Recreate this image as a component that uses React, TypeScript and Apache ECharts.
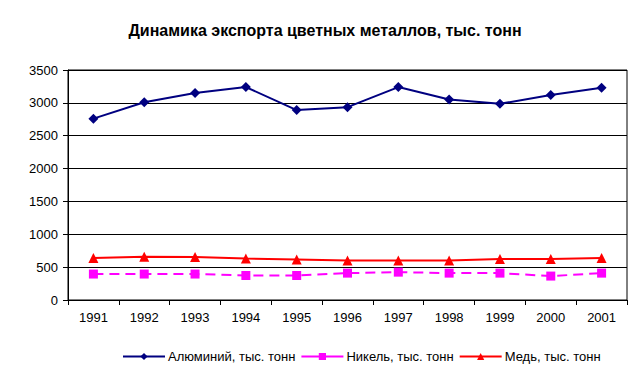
import React, { useEffect, useRef } from "react";
import * as echarts from "echarts";

const years = ["1991", "1992", "1993", "1994", "1995", "1996", "1997", "1998", "1999", "2000", "2001"];
const aluminium = [2760, 3010, 3150, 3240, 2890, 2935, 3240, 3050, 2985, 3120, 3230];
const nickel = [395, 395, 395, 373, 373, 409, 424, 409, 409, 364, 409];
const copper = [640, 660, 655, 630, 615, 600, 600, 600, 625, 625, 640];
const seriesNames = ["Алюминий, тыс. тонн", "Никель, тыс. тонн", "Медь, тыс. тонн"];
const titleText = "Динамика экспорта цветных металлов, тыс. тонн";

export default function App() {
  const ref = useRef<HTMLDivElement>(null);
  useEffect(() => {
    if (!ref.current) return;
    const chart = echarts.init(ref.current, undefined, { renderer: "svg" });
    const font = "Arial, 'Liberation Sans', sans-serif";
    chart.setOption({
      animation: false,
      backgroundColor: "#ffffff",
      textStyle: { fontFamily: font },
      title: {
        text: titleText,
        left: 320,
        textAlign: "center",
        top: 17,
        textStyle: { fontSize: 16, fontWeight: "bold", color: "#000", fontFamily: font },
      },
      grid: {
        left: 68,
        right: 15,
        top: 70,
        bottom: 80,
        show: true,
        borderColor: "#000",
        borderWidth: 1,
        backgroundColor: "transparent",
      },
      legend: {
        bottom: 12,
        left: 117,
        itemWidth: 42,
        itemHeight: 9,
        itemGap: 5,
        textStyle: { fontSize: 13, color: "#000", fontFamily: font, padding: [0, 0, 0, -2] },
        data: [
          { name: seriesNames[0] },
          { name: seriesNames[1], lineStyle: { type: "solid" } },
          { name: seriesNames[2] },
        ],
      },
      xAxis: {
        type: "category",
        data: years,
        boundaryGap: true,
        axisLine: { lineStyle: { color: "#000", width: 1 } },
        axisTick: { show: true, length: 5, lineStyle: { color: "#000" } },
        axisLabel: { fontSize: 13, color: "#000", margin: 11, fontFamily: font },
        splitLine: { show: false },
      },
      yAxis: {
        type: "value",
        min: 0,
        max: 3500,
        interval: 500,
        axisLine: { show: true, lineStyle: { color: "#000", width: 1 } },
        axisTick: { show: true, length: 5, lineStyle: { color: "#000" } },
        axisLabel: {
          fontSize: 13,
          color: "#000",
          margin: 10,
          fontFamily: font,
          formatter: (v: number) => String(v),
        },
        splitLine: { show: true, lineStyle: { color: "#000", width: 1 } },
      },
      series: [
        {
          name: seriesNames[0],
          type: "line",
          data: aluminium,
          symbol: "diamond",
          symbolSize: 10,
          itemStyle: { color: "#000080" },
          lineStyle: { color: "#000080", width: 2 },
        },
        {
          name: seriesNames[1],
          type: "line",
          data: nickel,
          symbol: "rect",
          symbolSize: 9,
          itemStyle: { color: "#FF00FF" },
          lineStyle: { color: "#FF00FF", width: 2, type: [10, 6] },
        },
        {
          name: seriesNames[2],
          type: "line",
          data: copper,
          symbol: "triangle",
          symbolSize: 10,
          itemStyle: { color: "#FF0000" },
          lineStyle: { color: "#FF0000", width: 2 },
        },
      ],
    });
    return () => chart.dispose();
  }, []);
  return <div ref={ref} style={{ width: 642, height: 380, position: "absolute", left: 0, top: 0 }} />;
}
